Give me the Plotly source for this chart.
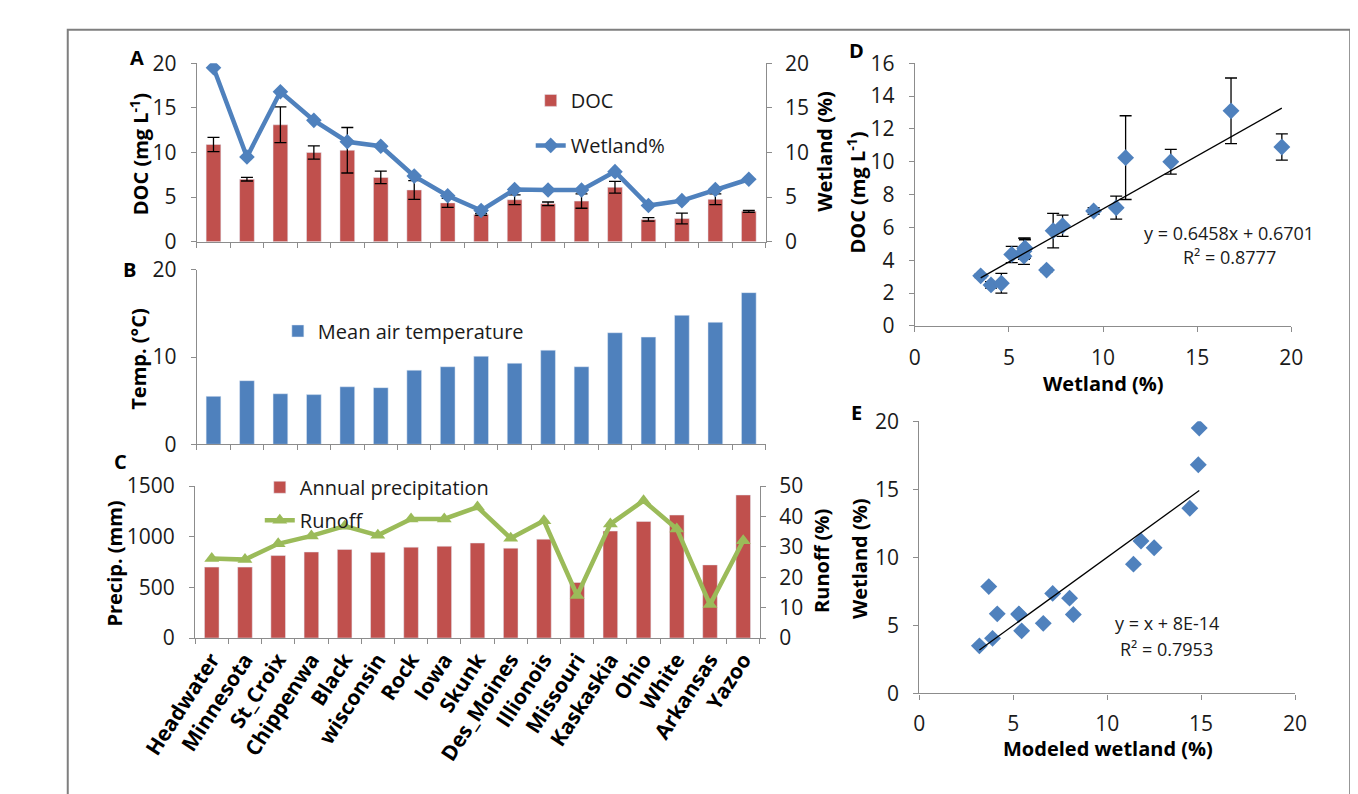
import plotly.graph_objects as go

# ---------------- data ----------------
rivers = ["Headwater", "Minnesota", "St_Croix", "Chippenwa", "Black", "wisconsin", "Rock", "Iowa",
          "Skunk", "Des_Moines", "Illionois", "Missouri", "Kaskaskia", "Ohio", "White", "Arkansas", "Yazoo"]
doc = [10.9, 7.0, 13.1, 10.0, 10.25, 7.2, 5.8, 4.35, 3.05, 4.7, 4.25, 4.55, 6.1, 2.5, 2.6, 4.75, 3.4]
doc_err = [0.8, 0.2, 2.0, 0.75, 2.55, 0.7, 1.05, 0.5, 0.1, 0.55, 0.2, 0.8, 0.65, 0.2, 0.6, 0.6, 0.1]
wetland = [19.5, 9.5, 16.8, 13.6, 11.2, 10.7, 7.35, 5.15, 3.5, 5.85, 5.8, 5.8, 7.85, 4.05, 4.6, 5.85, 7.0]
temp = [5.5, 7.3, 5.8, 5.7, 6.6, 6.5, 8.5, 8.9, 10.1, 9.3, 10.8, 8.9, 12.8, 12.3, 14.8, 14.0, 17.4]
precip = [700, 700, 814, 849, 875, 846, 897, 906, 938, 887, 976, 548, 1056, 1151, 1214, 722, 1412]
runoff = [26.2, 25.8, 31.0, 33.6, 36.8, 33.8, 39.2, 39.2, 43.1, 32.8, 38.6, 14.0, 37.5, 45.2, 35.9, 11.0, 32.0]
modeled = [14.9, 11.4, 14.85, 14.4, 11.8, 12.5, 7.1, 6.6, 3.2, 4.15, 5.3, 8.2, 3.7, 3.9, 5.45, 5.3, 8.0]

fit_d = (0.6458, 0.6701)   # slope, intercept shown in panel D
fit_e = (1.0, 8e-14)       # slope, intercept shown in panel E

# ---------------- style ----------------
W, H = 1358, 794
RED = "#C0504D"
BLUE = "#4F81BD"
GREEN = "#9BBB59"
GRAY = "#8C8C8C"
F = "Open Sans"
TXT = "#1a1a1a"
TICK_SIZE = 21


def px(x):
    return x / W


def py(y):
    return 1 - y / H


XA = [px(140.7), px(739)]
XC = [px(139), px(733)]
XD = [px(896), px(1292)]
XE = [px(900.7), px(1296)]
YA = [py(226.7), py(41.7)]
YB = [py(436.7), py(256)]
YC = [py(637.5), py(480)]
YD = [py(314), py(41.7)]
YE = [py(695), py(412.7)]

fig = go.Figure()

# Panel A
fig.add_trace(go.Bar(x=rivers, y=doc, name="DOC", marker_color=RED, width=0.44,
                     error_y=dict(type="data", array=doc_err, color="black", thickness=1.3, width=6),
                     xaxis="x", yaxis="y", legend="legend", legendgroup="a1"))
fig.add_trace(go.Scatter(x=rivers, y=wetland, name="Wetland%", mode="lines+markers",
                         line=dict(color=BLUE, width=4.5),
                         marker=dict(symbol="diamond", size=12, color=BLUE),
                         xaxis="x", yaxis="y2", legend="legend", legendgroup="a2"))
# Panel B
fig.add_trace(go.Bar(x=rivers, y=temp, name="Mean air temperature", marker_color=BLUE, width=0.44,
                     xaxis="x2", yaxis="y3", legend="legend2"))
# Panel C
fig.add_trace(go.Bar(x=rivers, y=precip, name="Annual precipitation", marker_color=RED, width=0.44,
                     xaxis="x3", yaxis="y4", legend="legend3", legendgroup="c1"))
fig.add_trace(go.Scatter(x=rivers, y=runoff, name="Runoff", mode="lines+markers",
                         line=dict(color=GREEN, width=4.5),
                         marker=dict(symbol="triangle-up", size=13, color=GREEN),
                         xaxis="x3", yaxis="y5", legend="legend3", legendgroup="c2"))
# Panel D
fig.add_trace(go.Scatter(x=wetland, y=doc, mode="markers", showlegend=False,
                         marker=dict(symbol="diamond", size=13, color=BLUE),
                         error_y=dict(type="data", array=doc_err, color="black", thickness=1.3, width=6),
                         xaxis="x4", yaxis="y6"))
dx = [min(wetland), max(wetland)]
fig.add_trace(go.Scatter(x=dx, y=[fit_d[0] * v + fit_d[1] for v in dx], mode="lines", showlegend=False,
                         line=dict(color="black", width=1.3), xaxis="x4", yaxis="y6"))
# Panel E
fig.add_trace(go.Scatter(x=modeled, y=wetland, mode="markers", showlegend=False,
                         marker=dict(symbol="diamond", size=13, color=BLUE),
                         xaxis="x5", yaxis="y7"))
ex = [min(modeled), max(modeled)]
fig.add_trace(go.Scatter(x=ex, y=[fit_e[0] * v + fit_e[1] for v in ex], mode="lines", showlegend=False,
                         line=dict(color="black", width=1.3), xaxis="x5", yaxis="y7"))


def ax(**kw):
    base = dict(showline=True, linecolor=GRAY, linewidth=1.3, ticks="outside", tickcolor=GRAY,
                ticklen=5, tickwidth=1.3, showgrid=False, zeroline=False,
                tickfont=dict(family=F, size=TICK_SIZE, color=TXT))
    base.update(kw)
    return base


cat_kw = dict(type="category", tickson="boundaries", range=[-0.5, 16.5])
LEG_FONT = dict(family=F, size=20, color=TXT)

layout = dict(
    width=W, height=H, autosize=False,
    margin=dict(l=0, r=0, t=0, b=0),
    paper_bgcolor="white", plot_bgcolor="white",
    barmode="overlay",
    font=dict(family=F, color=TXT),
    xaxis=ax(domain=XA, anchor="y", showticklabels=False, **cat_kw),
    yaxis=ax(domain=YA, anchor="x", range=[0, 20], dtick=5, ticklabelstandoff=10),
    yaxis2=ax(overlaying="y", side="right", anchor="x", range=[0, 20], dtick=5, ticklabelstandoff=9),
    xaxis2=ax(domain=XA, anchor="y3", showticklabels=False, **cat_kw),
    yaxis3=ax(domain=YB, anchor="x2", range=[0, 20], dtick=10, ticklabelstandoff=10),
    xaxis3=ax(domain=XC, anchor="y4", tickangle=-57,
              tickfont=dict(family=F, size=21, color="black", weight="bold"), **cat_kw),
    yaxis4=ax(domain=YC, anchor="x3", range=[0, 1500], dtick=500, ticklabelstandoff=10),
    yaxis5=ax(overlaying="y4", side="right", anchor="x3", range=[0, 50], dtick=10, ticklabelstandoff=9),
    xaxis4=ax(domain=XD, anchor="y6", range=[0, 20], dtick=5, ticklabelstandoff=8),
    yaxis6=ax(domain=YD, anchor="x4", range=[0, 16], dtick=2, ticklabelstandoff=10),
    xaxis5=ax(domain=XE, anchor="y7", range=[0, 20], dtick=5, ticklabelstandoff=6),
    yaxis7=ax(domain=YE, anchor="x5", range=[0, 20], dtick=5, ticklabelstandoff=10),
    legend=dict(x=px(492), y=py(60), xanchor="left", yanchor="top", bgcolor="rgba(0,0,0,0)",
                font=LEG_FONT, tracegroupgap=16),
    legend2=dict(x=px(226), y=py(299), xanchor="left", yanchor="top", bgcolor="rgba(0,0,0,0)",
                 font=LEG_FONT),
    legend3=dict(x=px(207), y=py(461), xanchor="left", yanchor="top", bgcolor="rgba(0,0,0,0)",
                 font=LEG_FONT, tracegroupgap=4),
)
fig.update_layout(**layout)

# Outer frame
fig.add_shape(type="rect", xref="paper", yref="paper", x0=px(5), x1=px(1354), y0=-0.02, y1=py(7),
              line=dict(color="#7F7F7F", width=2), fillcolor="rgba(0,0,0,0)", layer="below")

TB = dict(family=F, size=20, color="black", weight="bold")
ann = [
    # panel letters
    dict(x=px(78), y=py(36), text="A"),
    dict(x=px(70), y=py(256), text="B"),
    dict(x=px(60), y=py(455), text="C"),
    dict(x=px(835), y=py(29), text="D"),
    dict(x=px(835), y=py(404), text="E"),
]
for a in ann:
    a.update(xref="paper", yref="paper", showarrow=False, font=TB, xanchor="center", yanchor="middle")

titles = [
    (px(80), py(136), "DOC (mg L<sup>-1</sup>)", -90),
    (px(80), py(349), "Temp. (°C)", -90),
    (px(54), py(560), "Precip. (mm)", -90),
    (px(801), py(133), "Wetland (%)", -90),
    (px(798), py(558), "Runoff (%)", -90),
    (px(835), py(176), "DOC (mg L<sup>-1</sup>)", -90),
    (px(1094), py(374), "Wetland (%)", 0),
    (px(838), py(555), "Wetland (%)", -90),
    (px(1099), py(752), "Modeled wetland (%)", 0),
]
for x, y, t, ang in titles:
    ann.append(dict(x=x, y=y, text=t, textangle=ang, xref="paper", yref="paper", showarrow=False,
                    font=TB, xanchor="center", yanchor="middle"))

eqs = [
    (px(1226), py(218), "y = 0.6458x + 0.6701"),
    (px(1227), py(243), "R² = 0.8777"),
    (px(1161), py(622), "y = x + 8E-14"),
    (px(1161), py(649), "R² = 0.7953"),
]
for x, y, t in eqs:
    ann.append(dict(x=x, y=y, text=t, xref="paper", yref="paper", showarrow=False,
                    font=dict(family=F, size=18, color=TXT), xanchor="center", yanchor="middle"))

fig.update_layout(annotations=ann)
fig.write_html("out.html")
